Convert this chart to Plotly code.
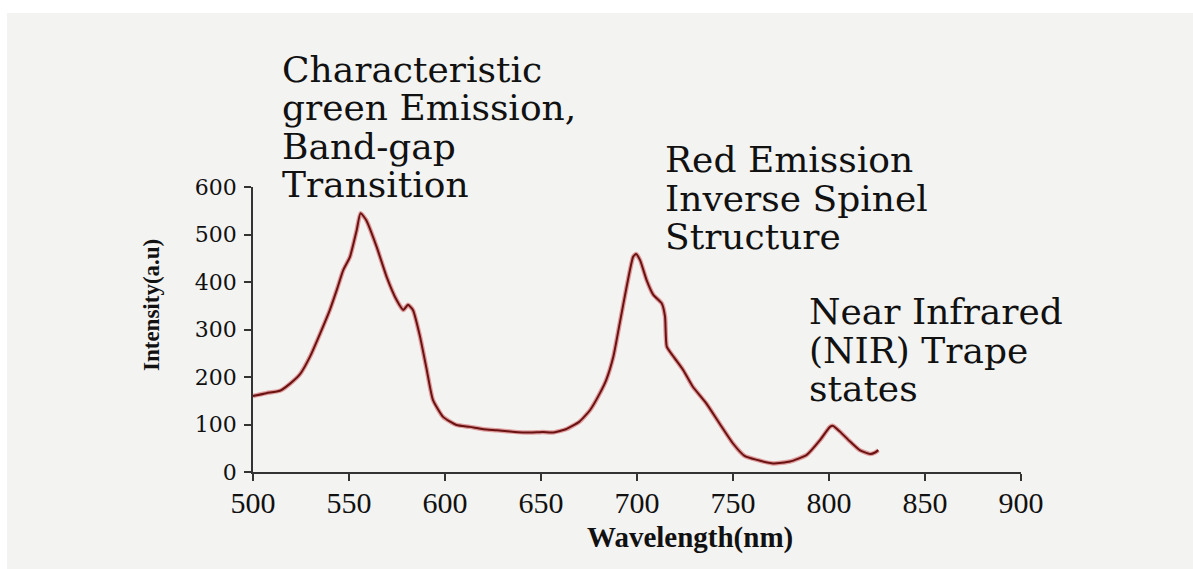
import plotly.graph_objects as go

# ---- data ----
wavelength_nm = [500, 507, 514, 519, 524.5, 529.7, 535, 540, 543.6, 547, 550.5, 554, 556, 559,
                 564.4, 569.6, 574.8, 578.3, 580.7, 583.3, 587, 590.5, 593.7, 599, 606, 613, 620,
                 627, 635, 644, 651, 656, 663, 670, 675.5, 680.7, 684, 687.7, 691, 694.6, 698,
                 699.5, 701.6, 705, 708.5, 712.9, 714.6, 715.5, 719, 724, 729, 736, 743, 750,
                 756, 762, 771, 779.7, 788.4, 795.3, 800.5, 802.2, 805.7, 811, 816, 821.4, 824, 825.7]
intensity = [160, 166, 171, 185, 206, 243, 292, 341, 383, 425, 453, 509, 545, 530,
             474, 411, 362, 341, 352, 341, 285, 215, 152, 116, 99, 95, 90,
             88, 85, 83, 84, 83, 90, 106, 130, 166, 194, 243, 313, 390, 453,
             459, 446, 404, 373, 355, 327, 264, 243, 215, 180, 145, 102, 60,
             34, 26, 18, 22, 36, 67, 95, 97, 85, 64, 46, 38, 41, 46]

x_ticks = [500, 550, 600, 650, 700, 750, 800, 850, 900]
y_ticks = [0, 100, 200, 300, 400, 500, 600]

x_title = "Wavelength(nm)"
y_title = "Intensity(a.u)"

note_green = ["Characteristic", "green Emission,", "Band-gap", "Transition"]
note_red = ["Red Emission", "Inverse Spinel", "Structure"]
note_nir = ["Near Infrared", "(NIR) Trape", "states"]

# ---- layout geometry (pixels) ----
W, H = 1193, 569
L, R, T, B = 253, 172, 187, 97
PW, PH = W - L - R, H - T - B


def px(xp):
    return (xp - L) / PW


def py(yp):
    return (H - B - yp) / PH


fig = go.Figure()
fig.add_trace(go.Scatter(
    x=wavelength_nm, y=intensity, mode="lines",
    line=dict(color="rgba(200,50,50,0.45)", width=4.5, shape="spline", smoothing=0.5),
    hoverinfo="skip", showlegend=False))
fig.add_trace(go.Scatter(
    x=wavelength_nm, y=intensity, mode="lines",
    line=dict(color="#6a1212", width=2, shape="spline", smoothing=0.5),
    showlegend=False))

annotations = []
NOTE_SIZE = 36


def add_block(lines, left_px, baselines):
    for text, b in zip(lines, baselines):
        annotations.append(dict(
            text=text, xref="paper", yref="paper", x=px(left_px), y=py(b - 11),
            xanchor="left", yanchor="middle", showarrow=False,
            font=dict(family="DejaVu Serif", size=NOTE_SIZE, color="#111111")))


add_block(note_green, 280, [80, 118, 157, 195])
add_block(note_red, 663, [171, 209, 247])
add_block(note_nir, 807, [322, 361, 399])

annotations.append(dict(
    text=y_title, xref="paper", yref="paper", x=px(151), y=py(305), textangle=-90,
    xanchor="center", yanchor="middle", showarrow=False,
    font=dict(family="Liberation Serif", size=23, color="#111111", weight="bold")))
annotations.append(dict(
    text=x_title, xref="paper", yref="paper", x=px(690), y=py(537),
    xanchor="center", yanchor="middle", showarrow=False,
    font=dict(family="Liberation Serif", size=29, color="#111111", weight="bold")))

shapes = [
    dict(type="rect", xref="paper", yref="paper", x0=px(-5), x1=px(7), y0=py(H + 5), y1=py(-5),
         fillcolor="white", line=dict(width=0), layer="below"),
    dict(type="rect", xref="paper", yref="paper", x0=px(-5), x1=px(W + 5), y0=py(13), y1=py(-5),
         fillcolor="white", line=dict(width=0), layer="below"),
]

fig.update_layout(
    width=W, height=H,
    margin=dict(l=L, r=R, t=T, b=B, pad=0),
    paper_bgcolor="#f3f3f2", plot_bgcolor="rgba(0,0,0,0)",
    annotations=annotations, shapes=shapes, showlegend=False,
    xaxis=dict(range=[500, 900], tickvals=x_ticks, showgrid=False, zeroline=False,
               showline=True, linecolor="#333333", linewidth=1.5,
               ticks="outside", ticklen=7, tickcolor="#333333", tickwidth=1.5,
               ticklabelstandoff=-4,
               tickfont=dict(family="Liberation Serif", size=30, color="#111111")),
    yaxis=dict(range=[0, 600], tickvals=y_ticks, showgrid=False, zeroline=False,
               showline=True, linecolor="#333333", linewidth=1.5,
               ticks="outside", ticklen=7, tickcolor="#333333", tickwidth=1.5,
               ticklabelstandoff=3,
               tickfont=dict(family="DejaVu Serif", size=22, color="#111111")),
)

fig.write_html("out.html")
